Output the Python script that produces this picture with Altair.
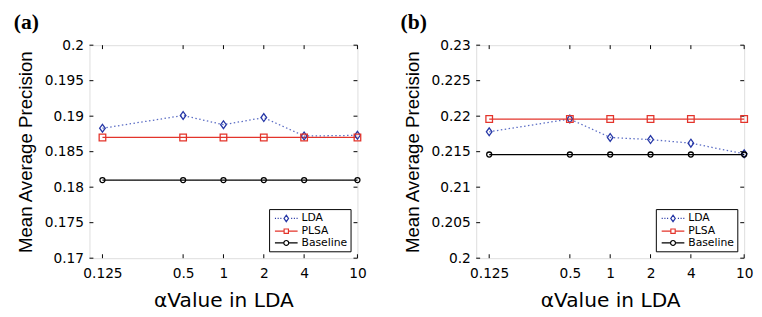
import altair as alt
import pandas as pd

alphas = [0.125, 0.5, 1, 2, 4, 10]
series = ["LDA", "PLSA", "Baseline"]

lda_a = [0.1883, 0.1901, 0.1888, 0.1898, 0.1872, 0.1873]
plsa_a = [0.1870, 0.1870, 0.1870, 0.1870, 0.1870, 0.1870]
base_a = [0.1810, 0.1810, 0.1810, 0.1810, 0.1810, 0.1810]

lda_b = [0.2178, 0.2196, 0.2170, 0.2167, 0.2162, 0.2147]
plsa_b = [0.2196, 0.2196, 0.2196, 0.2196, 0.2196, 0.2196]
base_b = [0.2146, 0.2146, 0.2146, 0.2146, 0.2146, 0.2146]

yticks_a = [0.17, 0.175, 0.18, 0.185, 0.19, 0.195, 0.2]
yticks_b = [0.2, 0.205, 0.21, 0.215, 0.22, 0.225, 0.23]

W, H = 273, 217
FONT = "DejaVu Sans"
YFONT = "Liberation Sans"
line_colors = ["#5a6cc4", "#e3342b", "#000000"]
marker_colors = ["#2637a6", "#e3342b", "#000000"]

diamond = "M0,-1L0.72,0L0,1L-0.72,0Z"
marker_shapes = [diamond, "square", "circle"]
marker_sizes = [64, 26, 38]

leg_lda = ("M-2.1,0L-1.9,0M-1.6,0L-1.4,0M-1.1,0L-0.9,0M0.9,0L1.1,0M1.4,0L1.6,0M1.9,0L2.1,0"
           "M0,-0.6L0.42,0L0,0.6L-0.42,0Z")
leg_plsa = "M-2.1,0L-0.4,0M0.4,0L2.1,0M-0.4,-0.4L0.4,-0.4L0.4,0.4L-0.4,0.4Z"
leg_base = ("M-2.1,0L-0.45,0M0.45,0L2.1,0"
            "M-0.45,0A0.45,0.45,0,1,1,0.45,0A0.45,0.45,0,1,1,-0.45,0Z")
legend_shapes = [leg_lda, leg_plsa, leg_base]


def panel(lda, plsa, base, ydom, yticks, label):
    rows = []
    for name, vals in zip(series, [lda, plsa, base]):
        for a, v in zip(alphas, vals):
            rows.append({"series": name, "legend": name, "alpha": a, "value": v})
    df = pd.DataFrame(rows)
    xt = pd.DataFrame({"alpha": alphas})
    yt = pd.DataFrame({"value": yticks})

    x = alt.X("alpha:Q",
              scale=alt.Scale(type="log", domain=[0.1, 10], nice=False),
              axis=alt.Axis(values=alphas, labelExpr="format(datum.value, '~g')",
                            tickCount=20, title="αValue in LDA",
                            ticks=False, domain=False, grid=False,
                            labelFontSize=14, titleFontSize=20.5, labelFont=FONT,
                            titleFont=FONT, titleFontWeight="normal",
                            labelPadding=9, titlePadding=10, labelColor="black",
                            titleColor="black", labelFlush=False, labelOverlap=False))
    y = alt.Y("value:Q",
              scale=alt.Scale(domain=ydom, nice=False, zero=False),
              axis=alt.Axis(values=yticks, labelExpr="format(datum.value, '.3~f')",
                            tickCount=20, title="Mean Average Precision",
                            ticks=False, domain=False, grid=False,
                            labelFontSize=14, titleFontSize=19, labelFont=FONT,
                            titleFont=YFONT, titleFontWeight="normal",
                            labelPadding=6, titlePadding=9, labelColor="black",
                            titleColor="black", labelOverlap=False, labelFlush=False))

    base_ch = alt.Chart(df)
    lines = base_ch.mark_line(strokeWidth=1.3).encode(
        x=x, y=y,
        color=alt.Color("series:N", scale=alt.Scale(domain=series, range=line_colors), legend=None),
        strokeDash=alt.StrokeDash("series:N",
                                  scale=alt.Scale(domain=series, range=[[1.5, 2.5], [1, 0], [1, 0]]),
                                  legend=None),
        detail="series:N",
    )
    points = base_ch.mark_point(filled=False, strokeWidth=1.3, opacity=1).encode(
        x=x, y=y,
        stroke=alt.Stroke("series:N", scale=alt.Scale(domain=series, range=marker_colors), legend=None),
        shape=alt.Shape("series:N", scale=alt.Scale(domain=series, range=marker_shapes), legend=None),
        size=alt.Size("series:N", scale=alt.Scale(domain=series, range=marker_sizes), legend=None),
    )
    leg = alt.Legend(title=None, orient="bottom-right", offset=7, padding=3,
                     strokeColor="black", fillColor="white", labelFontSize=11,
                     labelFont=FONT, labelColor="black", symbolSize=121,
                     symbolStrokeWidth=1.2, symbolOpacity=1, symbolOffset=8,
                     labelOffset=9, rowPadding=0, symbolFillColor="transparent")
    legend_layer = base_ch.mark_point(filled=False, opacity=0).encode(
        x=x, y=y,
        color=alt.Color("legend:N", scale=alt.Scale(domain=series, range=marker_colors), legend=leg),
        shape=alt.Shape("legend:N", scale=alt.Scale(domain=series, range=legend_shapes), legend=leg),
    )
    tick_style = dict(color="black", strokeWidth=1)
    xticks_bottom = alt.Chart(xt).mark_rule(**tick_style).encode(
        x=alt.X("alpha:Q", scale=alt.Scale(type="log", domain=[0.1, 10], nice=False)),
        y=alt.value(H), y2=alt.value(H - 4))
    xticks_top = alt.Chart(xt).mark_rule(**tick_style).encode(
        x=alt.X("alpha:Q", scale=alt.Scale(type="log", domain=[0.1, 10], nice=False)),
        y=alt.value(0), y2=alt.value(4))
    yticks_left = alt.Chart(yt).mark_rule(**tick_style).encode(
        y=alt.Y("value:Q", scale=alt.Scale(domain=ydom, nice=False, zero=False)),
        x=alt.value(0), x2=alt.value(4))
    yticks_right = alt.Chart(yt).mark_rule(**tick_style).encode(
        y=alt.Y("value:Q", scale=alt.Scale(domain=ydom, nice=False, zero=False)),
        x=alt.value(W - 4), x2=alt.value(W))

    return alt.layer(
        xticks_bottom, xticks_top, yticks_left, yticks_right,
        lines, points, legend_layer
    ).resolve_scale(color="independent", shape="independent").properties(
        width=W, height=H,
        title=alt.Title(label, anchor="start", frame="bounds", font="Liberation Serif",
                        fontWeight="bold", fontSize=22, color="black", offset=4, dx=-3),
    )


pa = panel(lda_a, plsa_a, base_a, [0.17, 0.2], yticks_a, "(a)")
pb = panel(lda_b, plsa_b, base_b, [0.2, 0.23], yticks_b, "(b)")

chart = alt.hconcat(pa, pb, spacing=33).resolve_scale(
    color="independent", shape="independent", stroke="independent",
    size="independent", strokeDash="independent"
).properties(
    padding={"left": 5, "top": 0, "right": 0, "bottom": 0}
).configure_view(stroke="black", strokeWidth=1.5).configure(background="white")

chart.save("out.html", embed_options={"renderer": "svg", "actions": False})
